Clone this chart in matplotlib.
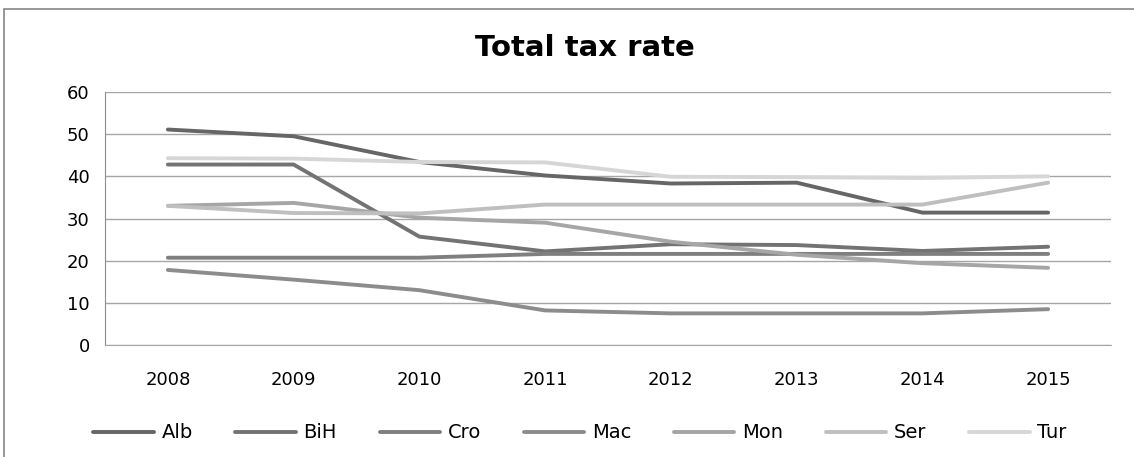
import matplotlib
matplotlib.use("Agg")
import matplotlib.pyplot as plt
from matplotlib.patches import Rectangle

years = ["2008", "2009", "2010", "2011", "2012", "2013", "2014", "2015"]

alb = [51.1, 49.5, 43.4, 40.2, 38.3, 38.5, 31.4, 31.4]
bih = [42.8, 42.8, 25.7, 22.2, 23.9, 23.7, 22.3, 23.3]
cro = [20.7, 20.7, 20.7, 21.6, 21.6, 21.6, 21.6, 21.6]
mac = [17.8, 15.5, 13.0, 8.2, 7.5, 7.5, 7.5, 8.5]
mon = [33.0, 33.7, 30.2, 29.0, 24.5, 21.4, 19.4, 18.3]
ser = [33.0, 31.3, 31.2, 33.3, 33.3, 33.3, 33.3, 38.5]
tur = [44.3, 44.2, 43.4, 43.3, 39.9, 39.8, 39.6, 40.0]

series = {
    "Alb": alb, "BiH": bih, "Cro": cro, "Mac": mac,
    "Mon": mon, "Ser": ser, "Tur": tur,
}
colors = {
    "Alb": "#666666", "BiH": "#737373", "Cro": "#7f7f7f", "Mac": "#8c8c8c",
    "Mon": "#a6a6a6", "Ser": "#bfbfbf", "Tur": "#d6d6d6",
}

W, H = 1134, 457
fig = plt.figure(figsize=(W / 100, H / 100), dpi=100)

# chart-area frame (only top and left edges fall inside the canvas)
fig.patches.append(Rectangle((4 / W, -0.5), 2.0, 1.5 - 9 / H,
                             transform=fig.transFigure, fill=False,
                             edgecolor="#868686", linewidth=1.2))

ax = fig.add_axes([105 / W, 1 - 345 / H, (1111 - 105) / W, (345 - 92) / H])

x = list(range(len(years)))
for name, vals in series.items():
    ax.plot(x, vals, color=colors[name], linewidth=2.8,
            solid_capstyle="round", solid_joinstyle="round", label=name)

ax.set_xlim(-0.5, len(years) - 0.5)
ax.set_ylim(0, 60)
ax.set_yticks(range(0, 61, 10))
ax.set_xticks(x)
ax.set_xticklabels(years)
ax.grid(axis="y", color="#a6a6a6", linewidth=1.0)
ax.set_axisbelow(True)
for s in ("top", "right"):
    ax.spines[s].set_visible(False)
ax.spines["left"].set_color("#8c8c8c")
ax.spines["bottom"].set_color("#a6a6a6")
ax.tick_params(axis="both", length=0, labelsize=13, colors="#000000")
ax.tick_params(axis="y", pad=11)
ax.tick_params(axis="x", pad=19)

fig.text(585 / W, 1 - 48 / H, "Total tax rate", ha="center", va="center",
         fontsize=21, fontweight="bold")

fig.legend(loc="center", bbox_to_anchor=(580 / W, 1 - 433 / H), ncol=7,
           frameon=False, fontsize=14, handlelength=3.1, handletextpad=0.4,
           columnspacing=2.2)

fig.savefig("out.png", dpi=100)
